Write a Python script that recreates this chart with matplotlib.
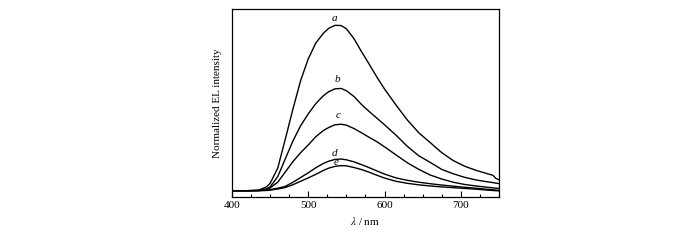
import matplotlib
matplotlib.use("Agg")
import matplotlib.pyplot as plt
from matplotlib.ticker import MultipleLocator

plt.rcParams["font.family"] = ["Liberation Serif", "DejaVu Serif"]
plt.rcParams["mathtext.fontset"] = "stix"

# Wavelength grid (nm)
wl = [400, 420, 435, 445, 450, 460, 470, 480, 490, 500, 510, 520, 527, 535, 543, 550,
      560, 570, 580, 590, 600, 615, 630, 645, 660, 675, 690, 705, 720, 735, 742, 746, 750]

# Normalized EL intensity
curve_a = [.035, .035, .038, .055, .074, .155, .31, .47, .62, .735, .82, .872, .898, .913, .912, .895,
           .842, .772, .706, .638, .575, .49, .41, .342, .29, .237, .195, .165, .143, .125, .117, .10, .093]
curve_b = [.035, .035, .036, .045, .055, .11, .205, .3, .38, .443, .498, .54, .561, .576, .578, .566,
           .535, .492, .455, .42, .385, .33, .27, .22, .185, .148, .125, .106, .092, .082, .078, .075, .073]
curve_c = [.035, .035, .036, .042, .05, .08, .135, .19, .237, .278, .322, .355, .371, .385, .388, .383,
           .365, .342, .318, .295, .268, .225, .183, .148, .118, .097, .08, .068, .06, .053, .05, .048, .047]
curve_d = [.035, .035, .035, .038, .041, .048, .058, .08, .105, .13, .157, .18, .192, .201, .203, .199,
           .188, .173, .157, .14, .123, .103, .09, .08, .072, .065, .059, .053, .048, .042, .04, .038, .037]
curve_e = [.035, .035, .035, .036, .038, .044, .052, .067, .085, .103, .122, .143, .155, .164, .168, .167,
           .158, .147, .133, .117, .102, .085, .074, .066, .06, .055, .051, .047, .043, .038, .036, .035, .034]

curves = [curve_a, curve_b, curve_c, curve_d, curve_e]
names = ["a", "b", "c", "d", "e"]
label_x = [534, 538, 539, 535, 537]
label_y = [0.95, 0.623, 0.432, 0.23, 0.184]

fig = plt.figure(figsize=(7, 2.4), dpi=100)
ax = fig.add_axes([0.3314, 0.178, 0.3814, 0.7846])

for ys in curves:
    ax.plot(wl, ys, color="black", lw=1.0)

for n, x, y in zip(names, label_x, label_y):
    ax.text(x, y, n, fontsize=8, fontstyle="italic", ha="center", va="center")

ax.set_xlim(400, 750)
ax.set_ylim(0, 1)
ax.xaxis.set_major_locator(MultipleLocator(100))
ax.xaxis.set_minor_locator(MultipleLocator(25))
ax.tick_params(axis="x", which="major", direction="in", length=4, width=0.8, labelsize=8, pad=3)
ax.tick_params(axis="x", which="minor", direction="in", length=2.2, width=0.8)
ax.set_yticks([])
for s in ax.spines.values():
    s.set_linewidth(0.9)

ax.set_xlabel(r"$\lambda$ / nm", fontsize=8, labelpad=3)
ax.set_ylabel("Normalized EL intensity", fontsize=8, labelpad=7)

fig.savefig("out.png", dpi=100)
